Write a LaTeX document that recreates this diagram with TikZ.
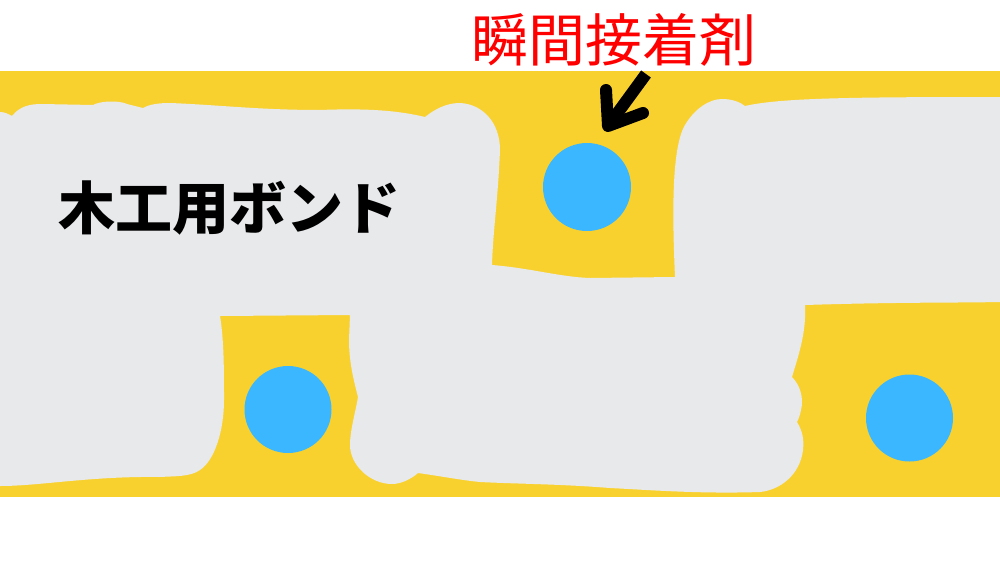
\documentclass[tikz,border=0pt]{standalone}
\usepackage{fontspec}
\newfontfamily\cjk{Noto Sans CJK JP}
\definecolor{bandyellow}{HTML}{F9D12F}
\definecolor{bondgray}{HTML}{E8E9EB}
\definecolor{dropblue}{HTML}{3AB7FE}
\definecolor{labelred}{HTML}{FF0000}
\tikzset{
  drop/.style={fill=dropblue, draw=none},
  arrowline/.style={line width=12pt, draw=black},
}
\begin{document}
\begin{tikzpicture}[x=1pt,y=-1pt]
\useasboundingbox (0,0) rectangle (1000,562);
\fill[white] (0,0) rectangle (1000,562);
\fill[bandyellow] (0,71) rectangle (1000,497);
\fill[bondgray]
  (0,486) -- (0,112)
  .. controls (5,112) and (8,114) .. (12,116)
  .. controls (20,106) and (30,104) .. (42,104)
  -- (93,105)
  .. controls (100,101) and (118,100) .. (127,104)
  -- (143,108)
  .. controls (150,104) and (160,103) .. (170,103)
  .. controls (220,105) and (260,110) .. (320,110)
  .. controls (370,108) and (400,111) .. (425,117)
  .. controls (440,105) and (452,103) .. (460,103)
  .. controls (482,104) and (500,122) .. (500,150)
  .. controls (498,200) and (493,230) .. (492,265)
  .. controls (530,268) and (560,277) .. (590,278)
  -- (675,277)
  .. controls (673,230) and (670,150) .. (685,125)
  .. controls (695,108) and (710,99) .. (722,99)
  .. controls (732,99) and (740,102) .. (745,106)
  .. controls (780,98) and (850,97) .. (1000,97)
  -- (1000,302)
  .. controls (950,303) and (900,302) .. (805,305)
  -- (805,318)
  .. controls (804,340) and (797,360) .. (792,377)
  .. controls (800,385) and (804,398) .. (801,410)
  .. controls (800,415) and (799,418) .. (797,422)
  .. controls (803,432) and (804,440) .. (803,450)
  .. controls (800,475) and (780,490) .. (760,492)
  .. controls (700,494) and (650,490) .. (610,488)
  .. controls (560,484) and (520,484) .. (480,482)
  .. controls (460,480) and (440,476) .. (418,473)
  .. controls (410,480) and (400,484) .. (392,484)
  .. controls (370,484) and (350,465) .. (350,445)
  .. controls (350,430) and (356,410) .. (358,397)
  .. controls (353,378) and (349,360) .. (349,340)
  -- (350,315)
  -- (220,316)
  .. controls (224,340) and (224,370) .. (224,400)
  .. controls (224,430) and (215,460) .. (200,470)
  .. controls (190,477) and (175,476) .. (160,477)
  .. controls (90,476) and (40,486) .. (0,486)
  -- cycle;
\fill[drop] (587,187) circle[radius=44];
\fill[drop] (288,409.5) circle[radius=43.5];
\fill[drop] (909.5,418) circle[radius=43.5];
\node[anchor=base, inner sep=0pt, font=\cjk\bfseries\fontsize{57}{60}\selectfont] (bond) at (229,229) {木工用ボンド};
\node[anchor=base, inner sep=0pt, text=labelred, font=\cjk\fontsize{57}{60}\selectfont] (glue) at (613.5,61) {瞬間接着剤};
\coordinate (tip) at (608,126);
\coordinate (tail) at (646,74);
\coordinate (armA) at (606,90);
\coordinate (armB) at (643,113);
\draw[arrowline, line cap=butt] (tip) -- (tail);
\draw[arrowline, line cap=round, line join=round] (armA) -- (tip) -- (armB);
\end{tikzpicture}
\end{document}
